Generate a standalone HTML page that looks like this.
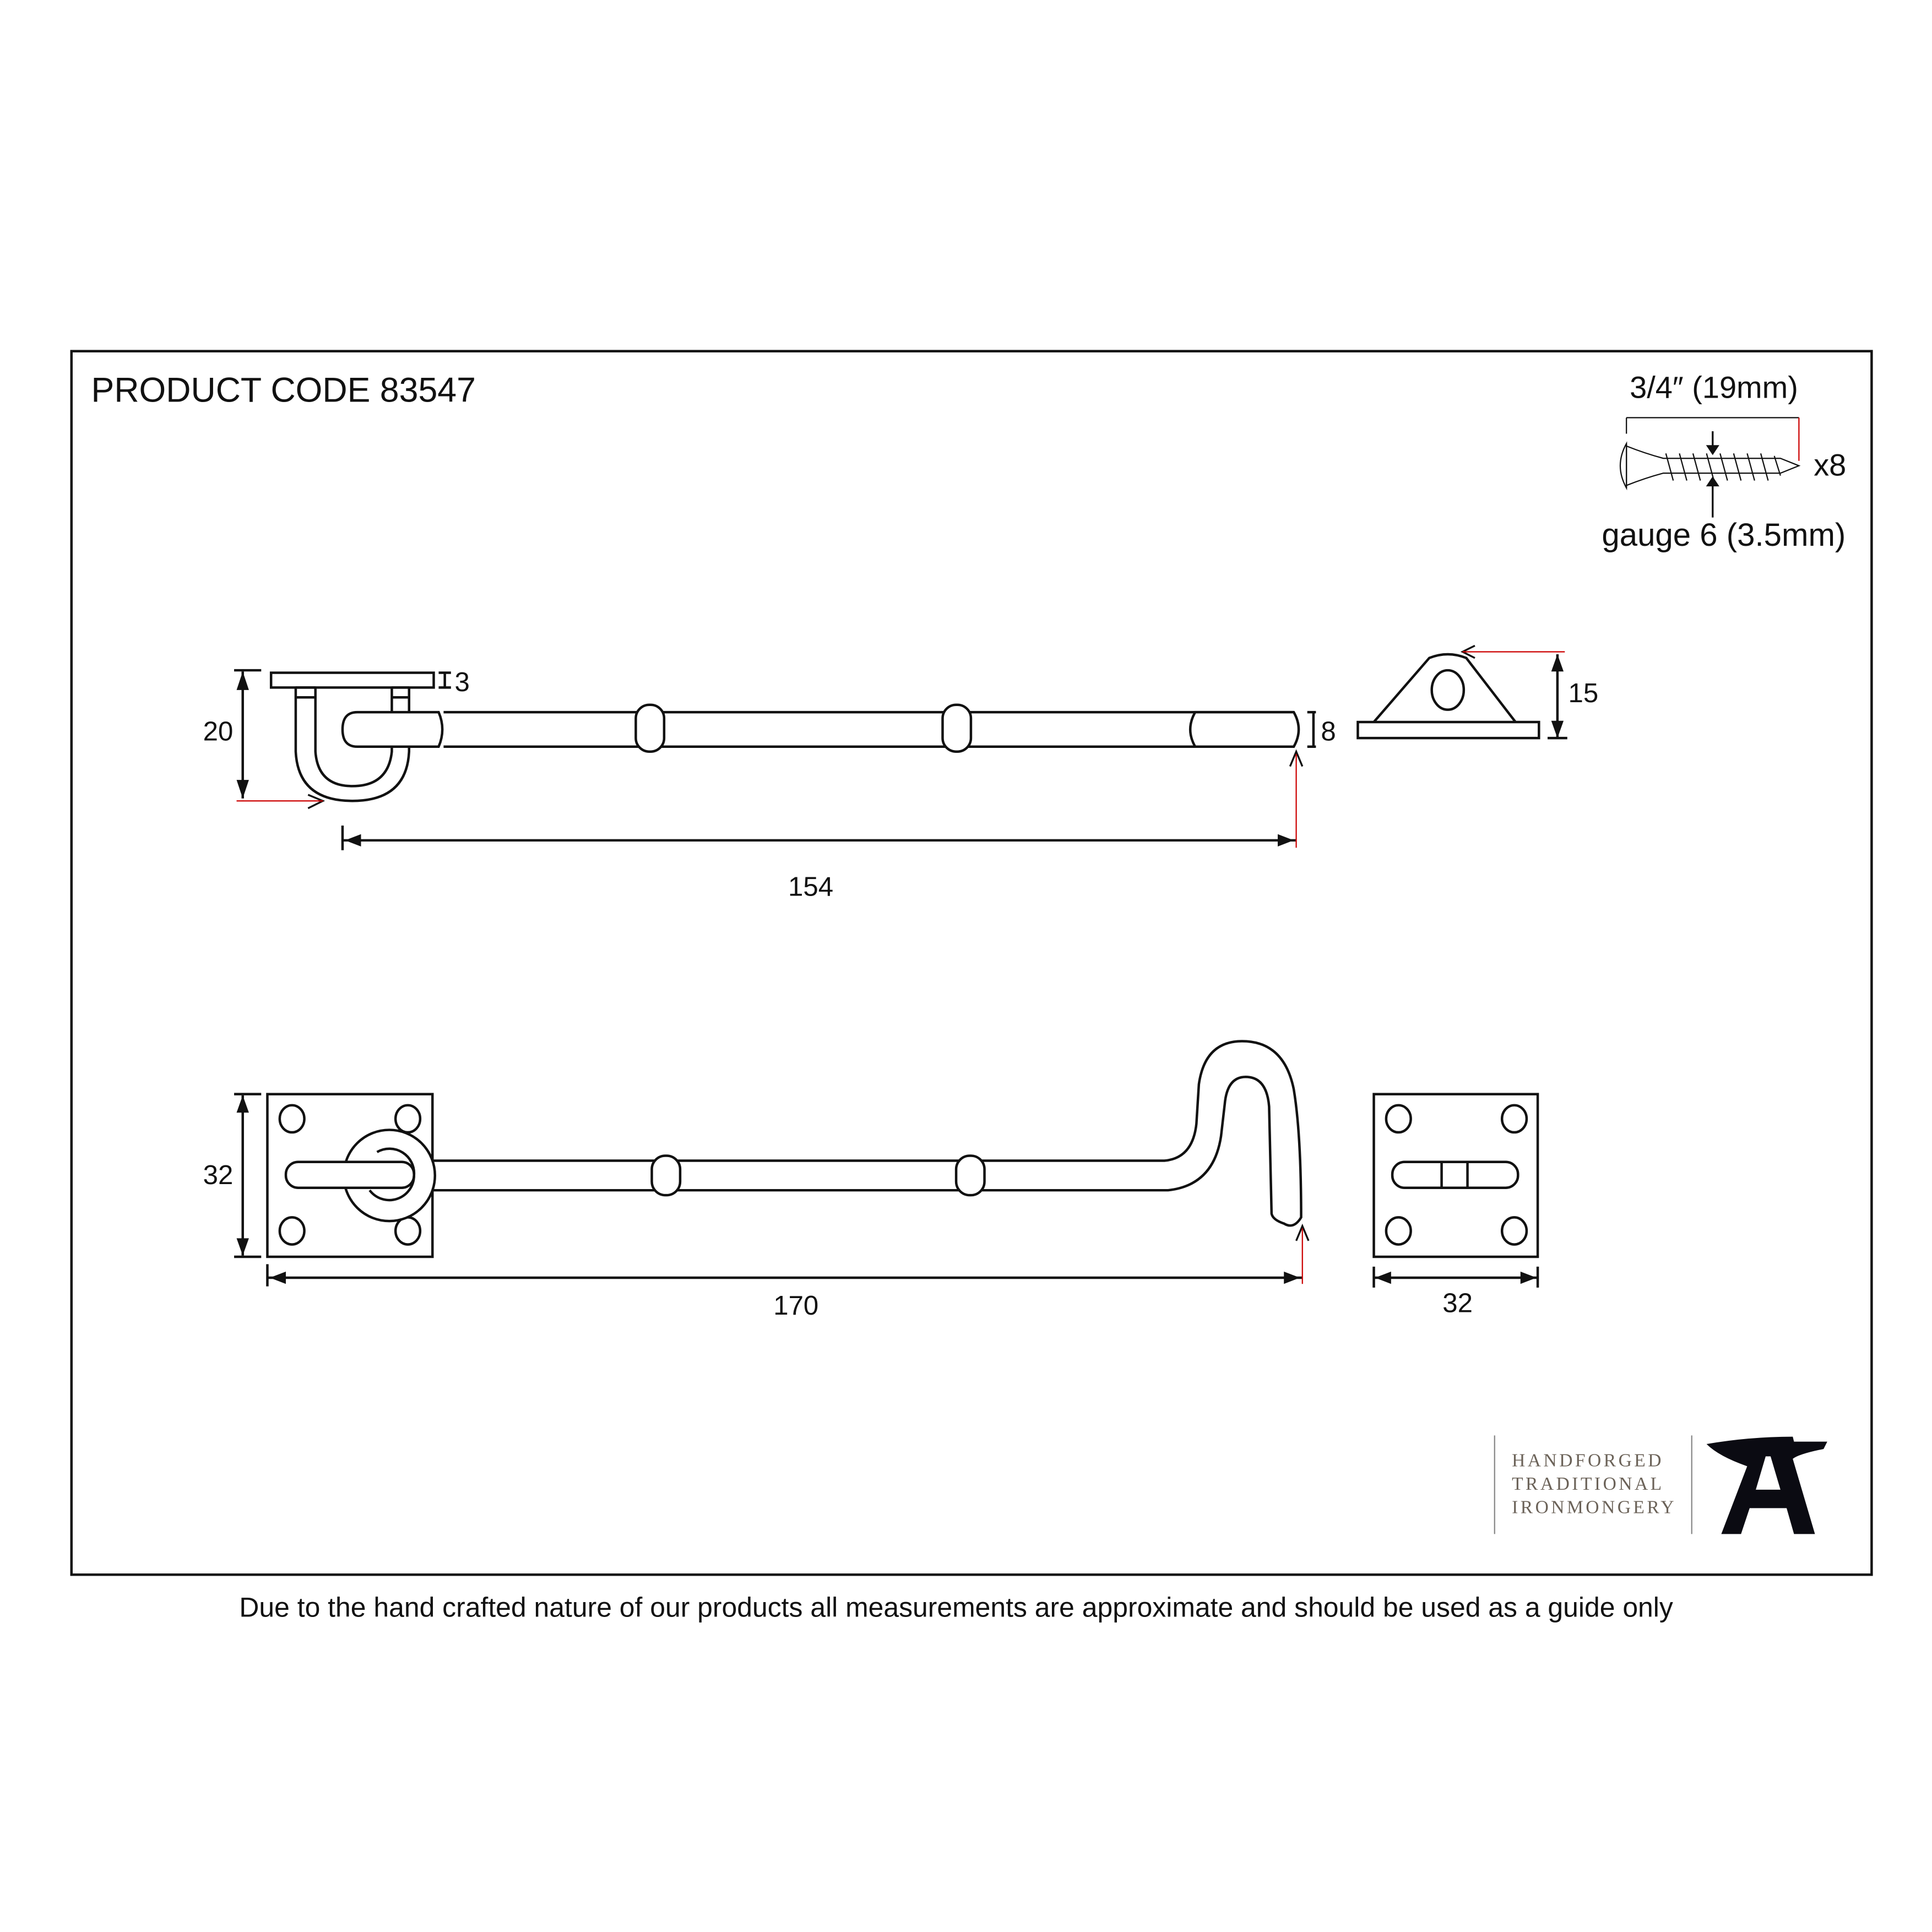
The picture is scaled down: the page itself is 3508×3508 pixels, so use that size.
<!DOCTYPE html>
<html><head><style>html,body{margin:0;padding:0;background:#fff}svg{display:block}</style></head>
<body>
<svg width="3508" height="3508" viewBox="0 0 1568 1568" xmlns="http://www.w3.org/2000/svg" font-family="Liberation Sans, sans-serif">
<rect x="0" y="0" width="1568" height="1568" fill="#fff"/>
<rect x="58" y="285" width="1461" height="993" fill="none" stroke="#111" stroke-width="2"/>
<text x="74" y="326" font-size="28" fill="#111">PRODUCT CODE 83547</text>

<!-- screw -->
<text x="1391" y="323" font-size="25" text-anchor="middle" fill="#111">3/4″ (19mm)</text>
<g stroke="#111" stroke-width="1" fill="none">
<line x1="1320" y1="339" x2="1460" y2="339"/>
<line x1="1320" y1="339" x2="1320" y2="352"/>
<path d="M1320 360 Q1310 378 1320 396 Z"/>
<line x1="1320" y1="360" x2="1320" y2="396"/>
<path d="M1320 362 Q1335 368 1350 372 L1445 372 L1460 378 L1445 384 L1350 384 Q1335 388 1320 394"/>
<path d="M1352 368 l6 22 M1363 368 l6 22 M1374 368 l6 22 M1385 368 l6 22 M1396 368 l6 22 M1407 368 l6 22 M1418 368 l6 22 M1429 368 l6 22 M1440 370 l5 16"/>
</g>
<line x1="1460" y1="339" x2="1460" y2="374" stroke="#c00" stroke-width="1"/>
<g stroke="#111" stroke-width="1.5" fill="#111">
<line x1="1390" y1="350" x2="1390" y2="366"/><path d="M1386 362 L1390 368 L1394 362 Z"/>
<line x1="1390" y1="390" x2="1390" y2="420"/><path d="M1386 394 L1390 388 L1394 394 Z"/>
</g>
<text x="1472" y="386" font-size="25" fill="#111">x8</text>
<text x="1300" y="443" font-size="26" fill="#111">gauge 6 (3.5mm)</text>

<!-- side view -->
<g stroke="#111" stroke-width="2" fill="none">
<rect x="220" y="546" width="132" height="12"/>
<line x1="240" y1="558" x2="256" y2="558"/>
<line x1="318" y1="558" x2="332" y2="558"/>
<line x1="240" y1="566" x2="256" y2="566"/>
<line x1="318" y1="566" x2="332" y2="566"/>
<path d="M240 558 L240 610 Q242 650 286 650 Q330 650 332 610 L332 558"/>
<path d="M256 558 L256 610 Q258 638 286 638 Q315 638 318 610 L318 558"/>
<path d="M290 578 L356 578 Q362 592 356 606 L290 606 Q278 606 278 592 Q278 578 290 578 Z" fill="#fff"/>
<line x1="360" y1="578" x2="1050" y2="578"/>
<line x1="360" y1="606" x2="1050" y2="606"/>
<rect x="516" y="572" width="23" height="38" rx="11" fill="#fff"/>
<rect x="765" y="572" width="23" height="38" rx="11" fill="#fff"/>
<path d="M970 578 L1050 578 Q1058 592 1050 606 L970 606 Q962 592 970 578 Z" fill="#fff"/>
<line x1="197" y1="545" x2="197" y2="648"/>
<line x1="190" y1="544" x2="212" y2="544"/>
<line x1="356" y1="546" x2="366" y2="546"/><line x1="356" y1="558" x2="366" y2="558"/><line x1="361" y1="546" x2="361" y2="558"/>
<line x1="1061" y1="578" x2="1068" y2="578"/><line x1="1061" y1="606" x2="1068" y2="606"/><line x1="1066" y1="578" x2="1066" y2="606"/>
<line x1="278" y1="682" x2="1052" y2="682"/>
<line x1="278" y1="670" x2="278" y2="690"/>
<path d="M250 645 L262 650 L250 656" stroke-width="1.5"/>
<path d="M1047 622 L1052 610 L1057 622" stroke-width="1.5"/>
</g>
<g fill="#111">
<path d="M192 560 L197 545 L202 560 Z"/><path d="M192 633 L197 648 L202 633 Z"/>
<path d="M293 677 L280 682 L293 687 Z"/><path d="M1037 677 L1050 682 L1037 687 Z"/>
</g>
<line x1="192" y1="650" x2="262" y2="650" stroke="#c00" stroke-width="1"/>
<line x1="1052" y1="612" x2="1052" y2="688" stroke="#c00" stroke-width="1"/>
<text x="177" y="601" font-size="22" text-anchor="middle" fill="#111">20</text>
<text x="369" y="561" font-size="22" fill="#111">3</text>
<text x="1072" y="601" font-size="22" fill="#111">8</text>
<text x="658" y="727" font-size="22" text-anchor="middle" fill="#111">154</text>

<!-- keep side -->
<g stroke="#111" stroke-width="2" fill="none">
<rect x="1102" y="586" width="147" height="13"/>
<path d="M1115 586 L1160 534 Q1175 528 1190 534 L1230 586"/>
<ellipse cx="1175" cy="560" rx="13" ry="16"/>
<line x1="1264" y1="531" x2="1264" y2="599"/>
<line x1="1256" y1="599" x2="1272" y2="599"/>
<path d="M1197 524 L1187 529 L1197 534" stroke-width="1.5"/>
</g>
<g fill="#111"><path d="M1259 545 L1264 531 L1269 545 Z"/><path d="M1259 585 L1264 599 L1269 585 Z"/></g>
<line x1="1187" y1="529" x2="1270" y2="529" stroke="#c00" stroke-width="1"/>
<text x="1285" y="570" font-size="22" text-anchor="middle" fill="#111">15</text>

<!-- front view -->
<g stroke="#111" stroke-width="2" fill="none">
<rect x="217" y="888" width="134" height="132"/>
<ellipse cx="237" cy="908" rx="10" ry="11"/><ellipse cx="331" cy="908" rx="10" ry="11"/>
<ellipse cx="237" cy="999" rx="10" ry="11"/><ellipse cx="331" cy="999" rx="10" ry="11"/>
<circle cx="316" cy="954" r="37" fill="#fff"/>
<rect x="232" y="943" width="104" height="21" rx="10" fill="#fff"/>
<path d="M306 935 A20 20 0 0 1 336 954 M336 954 A20 20 0 0 1 300 966"/>
<path d="M351 942 L945 942 Q968 940 971 912 L973 880 Q978 845 1008 845 Q1042 845 1050 884 Q1056 920 1056 988 Q1050 998 1042 993 Q1033 990 1032 985 L1030 898 Q1028 874 1011 874 Q996 874 994 896 L991 922 Q985 962 948 966 L351 966"/>
<rect x="529" y="938" width="23" height="32" rx="11" fill="#fff"/>
<rect x="776" y="938" width="23" height="32" rx="11" fill="#fff"/>
<line x1="197" y1="889" x2="197" y2="1019"/>
<line x1="190" y1="888" x2="212" y2="888"/><line x1="190" y1="1020" x2="212" y2="1020"/>
<line x1="217" y1="1037" x2="1057" y2="1037"/>
<line x1="217" y1="1026" x2="217" y2="1044"/>
<path d="M1052 1007 L1057 995 L1062 1007" stroke-width="1.5"/>
</g>
<g fill="#111">
<path d="M192 903 L197 889 L202 903 Z"/><path d="M192 1005 L197 1019 L202 1005 Z"/>
<path d="M232 1032 L219 1037 L232 1042 Z"/><path d="M1042 1032 L1055 1037 L1042 1042 Z"/>
</g>
<line x1="1057" y1="997" x2="1057" y2="1042" stroke="#c00" stroke-width="1"/>
<text x="177" y="961" font-size="22" text-anchor="middle" fill="#111">32</text>
<text x="646" y="1067" font-size="22" text-anchor="middle" fill="#111">170</text>

<!-- keep front -->
<g stroke="#111" stroke-width="2" fill="none">
<rect x="1115" y="888" width="133" height="132"/>
<ellipse cx="1135" cy="908" rx="10" ry="11"/><ellipse cx="1229" cy="908" rx="10" ry="11"/>
<ellipse cx="1135" cy="999" rx="10" ry="11"/><ellipse cx="1229" cy="999" rx="10" ry="11"/>
<rect x="1130" y="943" width="102" height="21" rx="10"/>
<line x1="1170" y1="943" x2="1170" y2="964"/><line x1="1191" y1="943" x2="1191" y2="964"/>
<line x1="1115" y1="1037" x2="1248" y2="1037"/>
<line x1="1115" y1="1028" x2="1115" y2="1045"/><line x1="1248" y1="1028" x2="1248" y2="1045"/>
</g>
<g fill="#111"><path d="M1129 1032 L1116 1037 L1129 1042 Z"/><path d="M1234 1032 L1247 1037 L1234 1042 Z"/></g>
<text x="1183" y="1065" font-size="22" text-anchor="middle" fill="#111">32</text>

<!-- logo -->
<line x1="1213" y1="1165" x2="1213" y2="1245" stroke="#888" stroke-width="1"/>
<line x1="1373" y1="1165" x2="1373" y2="1245" stroke="#888" stroke-width="1"/>
<g font-family="Liberation Serif, serif" font-size="15" fill="#6b6258" letter-spacing="2">
<text x="1227" y="1190">HANDFORGED</text>
<text x="1227" y="1209">TRADITIONAL</text>
<text x="1227" y="1228">IRONMONGERY</text>
</g>
<path d="M1385 1172 Q1420 1166 1455 1166 L1456 1170 L1483 1170 L1480 1176 Q1460 1180 1455 1184 L1473 1245 L1456 1245 L1450 1224 L1420 1224 L1413 1245 L1397 1245 L1418 1190 Q1395 1182 1385 1172 Z M1425 1209 L1445 1209 L1437 1182 L1433 1182 Z" fill="#0b0b12" fill-rule="evenodd"/>

<text x="776" y="1312" font-size="22.3" text-anchor="middle" fill="#111">Due to the hand crafted nature of our products all measurements are approximate and should be used as a guide only</text>
</svg>
</body></html>
